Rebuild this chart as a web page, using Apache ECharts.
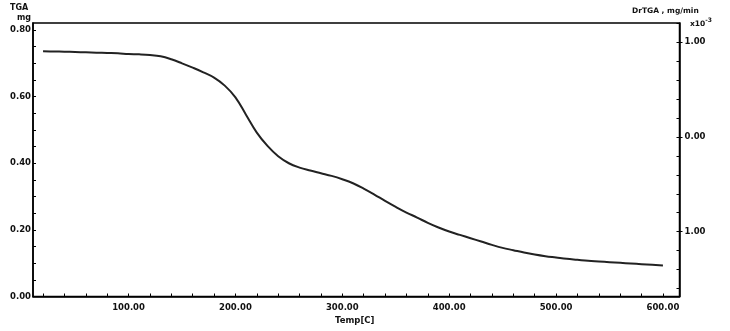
<!DOCTYPE html>
<html>
<head>
<meta charset="utf-8">
<script src="https://cdn.jsdelivr.net/npm/echarts@6/dist/echarts.min.js"></script>
<style>html,body{margin:0;padding:0;background:#fff}#c{width:730px;height:331px}</style>
</head>
<body>
<div id="c"></div>
<script>
// Temperature [C]
var temps = [20,30,40,50,60,70,80,90,100,110,120,130,140,150,160,170,180,190,200,210,220,230,240,250,260,270,280,290,300,310,320,330,340,350,360,370,380,390,400,410,420,430,440,450,460,470,480,490,500,510,520,530,540,550,560,570,580,590,600];
// TGA mass [mg]
var tga = [0.736,0.7355,0.735,0.734,0.733,0.732,0.731,0.730,0.728,0.727,0.725,0.721,0.712,0.700,0.687,0.673,0.657,0.633,0.598,0.545,0.492,0.452,0.421,0.400,0.387,0.378,0.370,0.362,0.352,0.340,0.324,0.306,0.287,0.269,0.252,0.237,0.221,0.207,0.195,0.185,0.175,0.165,0.155,0.146,0.139,0.132,0.126,0.121,0.117,0.113,0.110,0.107,0.105,0.103,0.101,0.099,0.097,0.095,0.093];
var xTickLabels = [100,200,300,400,500,600];
var yLeftLabels = [0,0.2,0.4,0.6,0.8];
var yRightLabels = [-1,0,1];

var FONT = 'DejaVu Sans';
function range(a,b,s){var r=[];for(var v=a;v<=b+1e-9;v+=s)r.push(Math.round(v*1000)/1000);return r;}

var data = temps.map(function(t,i){return [t,tga[i]];});
var chart = echarts.init(document.getElementById('c'), null, {renderer:'canvas'});
var lblStyle = {color:'#111', fontFamily:FONT, fontWeight:'bold', fontSize:8.5};

chart.setOption({
  animation:false,
  backgroundColor:'#fff',
  grid:{left:33, right:50.5, top:23, bottom:34.5, show:true, borderColor:'#000', borderWidth:1.5, backgroundColor:'transparent'},
  xAxis:[{
    type:'value', min:10.6, max:615.5,
    axisLine:{show:true, lineStyle:{color:'#000', width:1.5}},
    splitLine:{show:false},
    axisTick:{show:true, inside:true, length:3, customValues:range(20,600,20), lineStyle:{color:'#000', width:1}},
    axisLabel:Object.assign({customValues:xTickLabels, margin:7, formatter:function(v){return v.toFixed(2);}}, lblStyle)
  }],
  yAxis:[{
    type:'value', position:'left', min:0, max:0.821,
    axisLine:{show:true, lineStyle:{color:'#000', width:1.5}},
    splitLine:{show:false},
    axisTick:{show:true, inside:true, length:3, customValues:range(0,0.8,0.05), lineStyle:{color:'#000', width:1}},
    axisLabel:Object.assign({customValues:yLeftLabels, margin:2, formatter:function(v){return v.toFixed(2);}}, lblStyle)
  },{
    type:'value', position:'right', min:-1.683, max:1.2,
    axisLine:{show:true, lineStyle:{color:'#000', width:1.5}},
    splitLine:{show:false},
    axisTick:{show:true, inside:true, length:3, customValues:range(-1.6,1.2,0.2), lineStyle:{color:'#000', width:1}},
    axisLabel:{show:false}
  },{
    type:'value', position:'right', min:-1.683, max:1.2,
    axisLine:{show:false},
    splitLine:{show:false},
    axisTick:{show:true, inside:false, length:3, customValues:yRightLabels, lineStyle:{color:'#000', width:1}},
    axisLabel:Object.assign({customValues:yRightLabels, margin:5, formatter:function(v){return Math.abs(v).toFixed(2);}}, lblStyle)
  }],
  graphic:[
    {type:'text', left:10, top:4, style:{text:'TGA', font:'bold 8px "DejaVu Sans"', fill:'#111'}},
    {type:'text', left:17, top:14, style:{text:'mg', font:'bold 8px "DejaVu Sans"', fill:'#111'}},
    {type:'text', left:632, top:7, style:{text:'DrTGA , mg/min', font:'bold 7.5px "DejaVu Sans"', fill:'#111'}},
    {type:'text', left:690, top:17, style:{text:'{a|x10}{b|-3}', rich:{a:{font:'bold 7.5px "DejaVu Sans"', fill:'#111', verticalAlign:'bottom'}, b:{font:'bold 6px "DejaVu Sans"', fill:'#111', verticalAlign:'top', padding:[0,0,5,0]}}}},
    {type:'text', left:335, top:316, style:{text:'Temp[C]', font:'bold 8.5px "DejaVu Sans"', fill:'#111'}}
  ],
  series:[{
    type:'line', xAxisIndex:0, yAxisIndex:0, data:data, smooth:0.4, showSymbol:false,
    lineStyle:{color:'#222', width:2}
  }]
});
</script>
</body>
</html>
